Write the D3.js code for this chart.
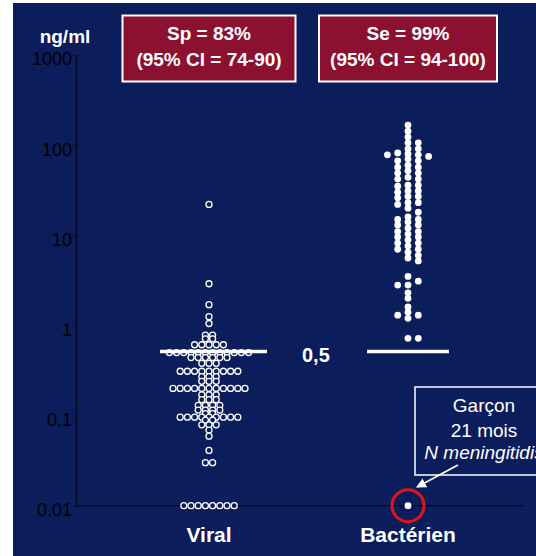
<!DOCTYPE html>
<html>
<head>
<meta charset="utf-8">
<script src="https://cdn.jsdelivr.net/npm/d3@7"></script>
<style>
  html, body { margin: 0; padding: 0; background: #fff; overflow: hidden; }
</style>
</head>
<body>
<div id="chart"></div>
<script>
// values
const categories = ["Viral", "Bactérien"];
const tickValues = [1000, 100, 10, 1, 0.1, 0.01];
const tickLabels = ["1000", "100", "10", "1", "0.1", "0.01"];

// viral: one row of hollow dots per level
const viralLevels = [22, 2.9, 1.7, 1.25, 1.05, 0.78, 0.71, 0.61, 0.5, 0.44, 0.38, 0.31, 0.27, 0.24,
  0.2, 0.17, 0.15, 0.13, 0.115, 0.105, 0.096, 0.089, 0.079, 0.069, 0.059, 0.041, 0.03, 0.01];
const viralCounts = [1, 1, 1, 1, 1, 2, 2, 5, 12, 6, 3, 9, 3, 3,
  11, 3, 3, 4, 4, 2, 9, 2, 3, 1, 1, 1, 2, 8];

// bacterial: one value per patient
const bacterialValues = [
  167, 143, 123, 106, 91, 78, 67, 57, 49, 42, 36, 31, 27, 23, 20,
  15, 13, 11, 9.6, 8.2, 7.0, 3.5, 3.1, 2.3, 2.0, 1.6, 1.4, 1.2,
  106, 91, 78, 67, 57, 49, 42, 36, 31, 27, 23,
  16, 14, 12, 10.3, 8.9, 7.6, 6.5, 5.6, 2.8, 1.3,
  82, 70, 60, 52, 44, 35, 30, 26, 22,
  18, 15, 13, 11, 9.6, 8.2, 7.0, 6.0, 5.2, 2.8, 1.3,
  80, 75, 0.72, 0.72, 0.01
];

const threshold = 0.5;
const thresholdLabel = "0,5";
const statLines = [["Sp = 83%", "(95% CI = 74-90)"], ["Se = 99%", "(95% CI = 94-100)"]];
const missedCase = 0.01;
const noteLines = ["Garçon", "21 mois", "N meningitidis"];

const width = 536, height = 556;
const navy = "#0b1d5a";
const font = "Liberation Sans, Arial, Helvetica, sans-serif";

const svg = d3.select("#chart").append("svg")
  .attr("width", width)
  .attr("height", height)
  .style("display", "block");

svg.append("rect")
  .attr("x", 13).attr("y", 3)
  .attr("width", width - 13).attr("height", height - 3)
  .attr("fill", navy);

const x = d3.scalePoint().domain(categories).range([209, 408]);
const y = d3.scaleLog().domain([0.01, 1000]).range([505.7, 55]);

// y axis
const yAxis = svg.append("g")
  .attr("transform", "translate(76,0)")
  .style("font-family", font)
  .style("font-size", "18px")
  .attr("color", "#050a22")
  .call(d3.axisLeft(y).tickValues(tickValues).tickFormat((d, i) => tickLabels[i])
    .tickSize(3).tickSizeOuter(0).tickPadding(1));
yAxis.select(".domain").attr("stroke-width", 1.5);
yAxis.selectAll("text").attr("fill", "#000").attr("dy", "0.55em");

// baseline
svg.append("line")
  .attr("x1", 76).attr("x2", 523)
  .attr("y1", y(0.01)).attr("y2", y(0.01))
  .attr("stroke", "#050a22").attr("stroke-width", 1.5);

svg.append("text")
  .attr("x", 65).attr("y", 43)
  .attr("text-anchor", "middle")
  .style("font-family", font).style("font-size", "19px").style("font-weight", "bold")
  .attr("fill", "#fff")
  .text("ng/ml");

// Sp / Se boxes
const boxW = [173, 178];
const boxes = svg.selectAll(".statbox").data(statLines).join("g")
  .attr("class", "statbox")
  .attr("transform", (d, i) => `translate(${x(categories[i])},0)`);
boxes.append("rect")
  .attr("x", (d, i) => -boxW[i] / 2).attr("y", 15.5)
  .attr("width", (d, i) => boxW[i]).attr("height", 66)
  .attr("fill", "#8c1030").attr("stroke", "#fff").attr("stroke-width", 2);
boxes.selectAll("text").data(d => d).join("text")
  .attr("x", 0).attr("y", (d, i) => 40 + i * 26)
  .attr("text-anchor", "middle")
  .style("font-family", font).style("font-size", "19px").style("font-weight", "bold")
  .attr("fill", "#fff")
  .text(d => d);

// viral dots, one centered row per level
const viralDots = [];
viralLevels.forEach((v, i) => {
  const n = viralCounts[i];
  for (let j = 0; j < n; j++) viralDots.push({ v, off: (j - (n - 1) / 2) * 7.2 });
});
svg.append("g").selectAll("circle").data(viralDots).join("circle")
  .attr("cx", d => x("Viral") + d.off)
  .attr("cy", d => y(d.v))
  .attr("r", 3)
  .attr("fill", navy)
  .attr("stroke", "#fff")
  .attr("stroke-width", 1.3);

// bacterial dots, stacked in columns
const slotOrder = [0, 1, -1, -2, 2, -3, 3];
const placed = [];
bacterialValues.slice().sort((a, b) => b - a).forEach(v => {
  const yy = y(v);
  const slot = slotOrder.find(s => !placed.some(p => p.slot === s && Math.abs(p.y - yy) < 4.8));
  placed.push({ v, y: yy, slot });
});
svg.append("g").selectAll("circle").data(placed).join("circle")
  .attr("cx", d => x("Bactérien") + d.slot * 10.3)
  .attr("cy", d => d.y)
  .attr("r", 3.4)
  .attr("fill", "#fff");

// threshold lines
const lineSpan = [[-49, 58], [-41, 41]];
svg.append("g").selectAll("line").data(categories).join("line")
  .attr("x1", (d, i) => x(d) + lineSpan[i][0])
  .attr("x2", (d, i) => x(d) + lineSpan[i][1])
  .attr("y1", y(threshold) - 1).attr("y2", y(threshold) - 1)
  .attr("stroke", "#fff").attr("stroke-width", 3.5);

svg.append("text")
  .attr("x", 302).attr("y", y(threshold) + 9)
  .style("font-family", font).style("font-size", "20px").style("font-weight", "bold")
  .attr("fill", "#fff")
  .text(thresholdLabel);

// missed case
svg.append("circle")
  .attr("cx", x("Bactérien")).attr("cy", y(missedCase))
  .attr("r", 16)
  .attr("fill", "none").attr("stroke", "#e3131b").attr("stroke-width", 3);

// note box
svg.append("rect")
  .attr("x", 415).attr("y", 387)
  .attr("width", 140).attr("height", 88)
  .attr("fill", "none").attr("stroke", "#fff").attr("stroke-width", 1.5);
svg.append("g").selectAll("text").data(noteLines).join("text")
  .attr("x", 484)
  .attr("y", (d, i) => [412, 437, 459][i])
  .attr("text-anchor", "middle")
  .style("font-family", font).style("font-size", "19px")
  .style("font-style", (d, i) => i === 2 ? "italic" : "normal")
  .attr("fill", "#fff")
  .text(d => d);

svg.append("defs").append("marker")
  .attr("id", "arrow")
  .attr("viewBox", "0 0 10 10")
  .attr("refX", 9).attr("refY", 5)
  .attr("markerWidth", 5.5).attr("markerHeight", 5.5)
  .attr("orient", "auto")
  .append("path").attr("d", "M0,0L10,5L0,10z").attr("fill", "#fff");
svg.append("line")
  .attr("x1", 458).attr("y1", 465)
  .attr("x2", 417).attr("y2", 487)
  .attr("stroke", "#fff").attr("stroke-width", 1.8)
  .attr("marker-end", "url(#arrow)");

// category labels
svg.append("g").selectAll("text").data(categories).join("text")
  .attr("x", d => x(d)).attr("y", 542)
  .attr("text-anchor", "middle")
  .style("font-family", font).style("font-size", "21px").style("font-weight", "bold")
  .attr("fill", "#fff")
  .text(d => d);
</script>
</body>
</html>
